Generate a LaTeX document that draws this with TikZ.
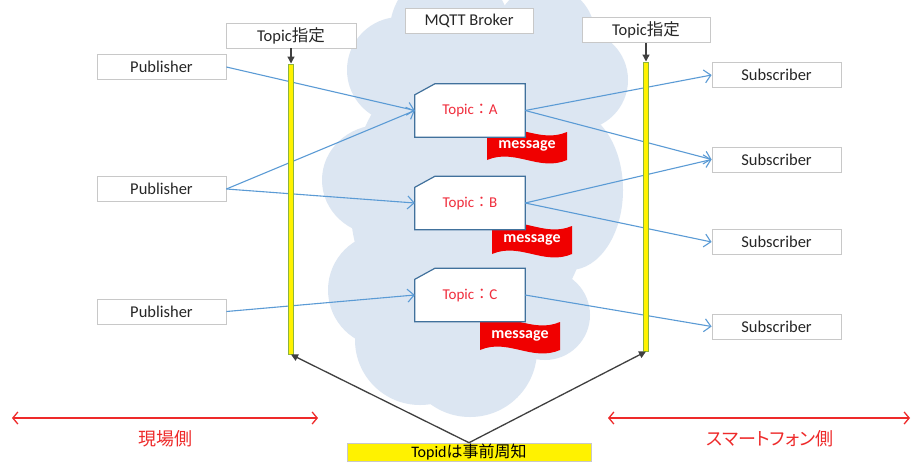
\documentclass[tikz,border=0pt]{standalone}
\usepackage{fontspec}
\setmainfont{Carlito}
\newfontfamily\jp{Noto Sans CJK JP}
\newfontfamily\jpp[RawFeature=+palt]{Noto Sans CJK JP}
\usetikzlibrary{arrows.meta,calc}

\definecolor{cloudblue}{HTML}{DCE6F2}
\definecolor{flowblue}{HTML}{5B9BD5}
\definecolor{boxgray}{HTML}{C8C8C8}
\definecolor{topicedge}{HTML}{41719C}
\definecolor{bargreen}{HTML}{8DB43E}
\definecolor{ink}{HTML}{262626}
\definecolor{topicred}{HTML}{F02D3C}
\definecolor{flagred}{HTML}{F00000}
\definecolor{noticegray}{HTML}{404040}
\definecolor{sidered}{HTML}{EE2A2A}

\pgfdeclarelayer{bg}
\pgfdeclarelayer{flag}
\pgfdeclarelayer{plate}
\pgfsetlayers{bg,flag,plate,main}

% red wavy banner carrying the word "message"
\newcommand\wavyflag[3]{%
  \begin{pgfonlayer}{flag}
    \fill[flagred] ({#2-40},{#3-14}) .. controls ({#2-12},{#3-26}) and ({#2+12},{#3-2}) .. ({#2+40},{#3-14})
      -- ({#2+40},{#3+14}) .. controls ({#2+12},{#3+26}) and ({#2-12},{#3+2}) .. ({#2-40},{#3+14}) -- cycle;
  \end{pgfonlayer}
  \node[msg] (#1) at (#2,#3) {message};}

\begin{document}
\begin{tikzpicture}[x=1pt,y=-1pt,
  plainbox/.style={draw=boxgray, line width=0.8pt, fill=white, inner sep=0pt,
    minimum height=25pt, text=ink, font=\fontsize{16.5}{18}\selectfont},
  topicbox/.style={inner sep=0pt, minimum width=110pt, minimum height=53pt,
    text=topicred, font=\fontsize{15}{17}\selectfont},
  msg/.style={text=white, inner sep=0pt, font=\fontsize{16}{18}\selectfont\bfseries},
  flow/.style={draw=flowblue, line width=1.1pt, -{Straight Barb[length=6.5pt,width=13pt]}},
  notice/.style={draw=noticegray, line width=1.3pt, -{Triangle[length=7pt,width=7pt]}},
  bar/.style={draw=bargreen, fill=yellow, line width=1pt, minimum width=5pt, inner sep=0pt},
  side/.style={draw=sidered, line width=1.3pt,
    {Straight Barb[length=5pt,width=12pt]}-{Straight Barb[length=5pt,width=12pt]}},
  sidelabel/.style={text=sidered, font=\jpp\fontsize{18}{20}\selectfont, inner sep=0pt}
]
\useasboundingbox (0,0) rectangle (912,461);

% background and the broker cloud
\begin{pgfonlayer}{bg}
  \fill[white] (0,0) rectangle (912,461);
  \fill[cloudblue] (400,70) circle (53);
  \fill[cloudblue] (450,30) circle (60);
  \fill[cloudblue] (545,35) circle (50);
  \fill[cloudblue] (578,80) circle (50);
  \fill[cloudblue] (570,190) ellipse (53 and 80);
  \fill[cloudblue] (545,315) circle (45);
  \fill[cloudblue] (470,350) circle (67);
  \fill[cloudblue] (420,340) circle (65);
  \fill[cloudblue] (385,290) circle (57);
  \fill[cloudblue] (380,180) ellipse (58 and 55);
  \fill[cloudblue] (470,200) ellipse (120 and 150);
\end{pgfonlayer}

% header boxes
\node[plainbox, minimum width=128pt] (broker) at (469,20.5) {MQTT Broker};
\node[plainbox, minimum width=130pt] (lspec) at (291,35.5) {Topic{\jp 指定}};
\node[plainbox, minimum width=128pt] (rspec) at (646,30) {Topic{\jp 指定}};

% publishers and subscribers
\node[plainbox, minimum width=129pt] (p1) at (161.5,67) {Publisher};
\node[plainbox, minimum width=129pt] (p2) at (161.5,189) {Publisher};
\node[plainbox, minimum width=129pt] (p3) at (161.5,311.5) {Publisher};
\node[plainbox, minimum width=129pt] (s1) at (776.5,75) {Subscriber};
\node[plainbox, minimum width=129pt] (s2) at (776.5,159.5) {Subscriber};
\node[plainbox, minimum width=129pt] (s3) at (776.5,242) {Subscriber};
\node[plainbox, minimum width=129pt] (s4) at (776.5,326.5) {Subscriber};

% topics inside the broker
\node[topicbox] (ta) at (470,110.5) {Topic{\jp ：}A};
\node[topicbox] (tb) at (470,203) {Topic{\jp ：}B};
\node[topicbox] (tc) at (470,295) {Topic{\jp ：}C};
\begin{pgfonlayer}{plate}
  \foreach \t in {ta,tb,tc}
    \draw[topicedge, line width=1.2pt, fill=white]
      ($(\t.north west)+(0,11)$) -- ($(\t.north west)+(20,0)$) -- (\t.north east)
      -- (\t.south east) -- (\t.south west) -- cycle;
\end{pgfonlayer}

\wavyflag{fa}{527}{146}
\wavyflag{fb}{532}{240}
\wavyflag{fc}{520}{336}

% publish / subscribe flows
\draw[flow] (p1.east) -- (ta.west);
\draw[flow] (p2.east) -- (ta.west);
\draw[flow] (p2.east) -- (tb.west);
\draw[flow] (p3.east) -- (tc.west);
\draw[flow] (ta.east) -- (s1.west);
\draw[flow] (ta.east) -- (s2.west);
\draw[flow] (tb.east) -- (s2.west);
\draw[flow] (tb.east) -- (s3.west);
\draw[flow] (tc.east) -- (s4.west);

% topic designation bars
\node[bar, minimum height=290pt] (lbar) at (291,209) {};
\node[bar, minimum height=289pt] (rbar) at (646,206.5) {};
\draw[notice] (lspec.south) -- (lbar.north);
\draw[notice] (rspec.south) -- (rbar.north);

% advance notice of topics
\node[draw=boxgray, line width=0.6pt, fill=yellow, inner sep=0pt, minimum width=244pt,
  minimum height=18pt, font=\fontsize{16}{18}\selectfont, text=black] (known) at (469,452)
  {Topid{\jp は事前周知}};
\draw[notice] (known.north) -- (lbar.south);
\draw[notice] (known.north) -- (rbar.south);

% the two sides
\coordinate (la) at (12,418);
\coordinate (lb) at (318,418);
\coordinate (ra) at (608,418);
\coordinate (rb) at (910,418);
\draw[side] (la) -- (lb);
\draw[side] (ra) -- (rb);
\node[sidelabel] (site) at (165,439) {現場側};
\node[sidelabel] (phone) at (770,439) {スマートフォン側};
\end{tikzpicture}
\end{document}
